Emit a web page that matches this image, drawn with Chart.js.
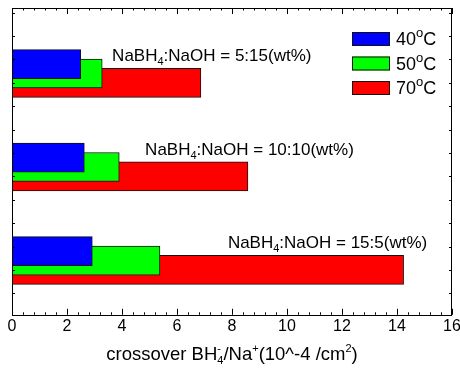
<!DOCTYPE html>
<html>
<head>
<meta charset="utf-8">
<script src="https://cdn.jsdelivr.net/npm/chart.js@4/dist/chart.umd.min.js"></script>
<style>
  html, body { margin: 0; padding: 0; background: #fff; }
  #wrap { width: 460px; height: 369px; }
</style>
</head>
<body>
<div id="wrap"><canvas id="c" width="460" height="369"></canvas></div>
<script>
/* ════════════════════════════
   DATA
════════════════════════════ */
const RATIOS   = ['5:15', '10:10', '15:5'];        // NaBH4:NaOH (wt%)
const TEMPS    = ['40', '50', '70'];               // °C
const GROUP_Y  = [1, 2, 3];                        // group positions on the value axis
const VAL_40   = [2.50, 2.63, 2.92];
const VAL_50   = [3.28, 3.90, 5.38];
const VAL_70   = [6.87, 8.58, 14.24];
const X_TICKS  = [0, 2, 4, 6, 8, 10, 12, 14, 16];
const Y_TICKS  = [0.35, 0.6, 0.85, 1.1, 1.35, 1.6, 1.85, 2.1, 2.35, 2.6, 2.85, 3.1, 3.35];

const SERIES   = [VAL_40, VAL_50, VAL_70];
const COLORS   = ['#0000FF', '#00FF00', '#FF0000'];
const OFFSETS  = [-0.1, 0, 0.1];
const LABEL_X  = [3.64, 4.84, 7.85];               // where each group's note starts (x value)
const FONT     = "Arial, 'Liberation Sans', sans-serif";

/* ════════════════════════════
   RICH TEXT (sub / superscripts)
════════════════════════════ */
function drawRich(ctx, parts, x, y, size, small) {
  ctx.textBaseline = 'alphabetic';
  ctx.textAlign = 'left';
  ctx.fillStyle = '#000';
  parts.forEach(p => {
    if (typeof p === 'string') {
      ctx.font = size + 'px ' + FONT;
      ctx.fillText(p, x, y);
      x += ctx.measureText(p).width;
      return;
    }
    const s = Math.round(size * (small || 0.62));
    ctx.font = s + 'px ' + FONT;
    let w = 0;
    if (p.sup) { ctx.fillText(p.sup, x, y - size * 0.42); w = Math.max(w, ctx.measureText(p.sup).width); }
    if (p.sub) { ctx.fillText(p.sub, x, y + size * 0.22); w = Math.max(w, ctx.measureText(p.sub).width); }
    x += w;
  });
  return x;
}

/* ════════════════════════════
   PLUGINS
════════════════════════════ */
const framePlugin = {
  id: 'frame',
  afterDatasetsDraw(chart) {
    const { ctx, chartArea: a, scales: { x, y } } = chart;
    ctx.save();
    ctx.strokeStyle = '#000';
    ctx.lineWidth = 1;
    ctx.strokeRect(Math.round(a.left) + 0.5, Math.round(a.top) + 0.5,
                   Math.round(a.right - a.left) - 1, Math.round(a.bottom - a.top));
    ctx.beginPath();
    // x ticks (major + minor) on bottom and top, pointing inward
    for (let v = 0; v <= 16.001; v += 0.4) {
      const major = Math.abs(v / 2 - Math.round(v / 2)) < 1e-6;
      const len = major ? 6 : 2.5;
      const px = Math.round(x.getPixelForValue(v)) + 0.5;
      ctx.moveTo(px, a.bottom); ctx.lineTo(px, a.bottom - len);
      ctx.moveTo(px, a.top);    ctx.lineTo(px, a.top + len);
    }
    // y ticks on left and right
    Y_TICKS.forEach(t => {
      const py = Math.round(y.getPixelForValue(t)) + 0.5;
      ctx.moveTo(a.left, py);  ctx.lineTo(a.left + 3, py);
      ctx.moveTo(a.right, py); ctx.lineTo(a.right - 3, py);
    });
    ctx.stroke();
    ctx.restore();
  },
  afterDraw(chart) {
    const { ctx, chartArea: a, scales: { x, y } } = chart;
    ctx.save();
    // group notes
    RATIOS.forEach((r, i) => {
      const px = x.getPixelForValue(LABEL_X[i]);
      const py = y.getPixelForValue(GROUP_Y[i] - 0.13);
      drawRich(ctx, ['NaBH', { sub: '4' }, ':NaOH = ' + r + '(wt%)'], px, py, 17);
    });
    // legend
    TEMPS.forEach((t, i) => {
      const bx = 352, by = 32 + i * 24.5;
      ctx.fillStyle = COLORS[i];
      ctx.fillRect(bx, by, 38, 14);
      ctx.strokeStyle = '#111';
      ctx.lineWidth = 1;
      ctx.strokeRect(bx + 0.5, by + 0.5, 37, 13);
      drawRich(ctx, [t, { sup: 'o' }, 'C'], bx + 44, by + 13, 18, 0.72);
    });
    // x axis title
    const parts = ['crossover BH', { sup: '-', sub: '4' }, '/Na', { sup: '+' }, '(10^-4 /cm', { sup: '2' }, ')'];
    const tmp = document.createElement('canvas').getContext('2d');
    const wEnd = drawRich(tmp, parts, 0, 0, 18.5);
    drawRich(ctx, parts, (a.left + a.right) / 2 - wEnd / 2, 360, 18.5);
    ctx.restore();
  }
};

/* ════════════════════════════
   CHART
════════════════════════════ */
const datasets = SERIES.map((vals, i) => ({
  label: TEMPS[i] + '°C',
  data: vals.map((v, j) => ({ x: v, y: GROUP_Y[j] + OFFSETS[i] })),
  backgroundColor: COLORS[i],
  borderColor: '#111',
  borderWidth: 1,
  borderSkipped: false,
  barThickness: 29,
  grouped: false,
}));

new Chart(document.getElementById('c'), {
  type: 'bar',
  data: { datasets },
  options: {
    indexAxis: 'y',
    responsive: false,
    animation: false,
    devicePixelRatio: 1,
    layout: { padding: { top: 8, left: 12, right: 8, bottom: 31 } },
    plugins: { legend: { display: false }, tooltip: { enabled: false } },
    scales: {
      y: { type: 'linear', reverse: true, min: 0.30, max: 3.58, offset: false, display: false },
      x: {
        type: 'linear', min: 0, max: 16,
        afterBuildTicks: s => { s.ticks = X_TICKS.map(v => ({ value: v })); },
        afterFit: s => { s.paddingLeft = 0; s.paddingRight = 0; },
        ticks: { font: { size: 16, family: FONT }, color: '#000', padding: 2, maxRotation: 0 },
        grid: { display: false, drawTicks: false },
        border: { display: false },
      }
    }
  },
  plugins: [framePlugin]
});
</script>
</body>
</html>
